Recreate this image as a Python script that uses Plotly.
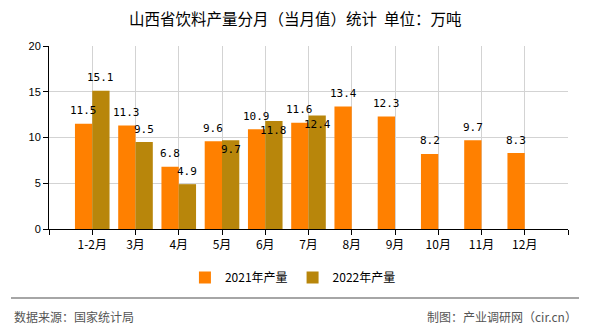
import plotly.graph_objects as go

months = ["1-2月", "3月", "4月", "5月", "6月", "7月", "8月", "9月", "10月", "11月", "12月"]
prod_2021 = [11.5, 11.3, 6.8, 9.6, 10.9, 11.6, 13.4, 12.3, 8.2, 9.7, 8.3]
prod_2022 = [15.1, 9.5, 4.9, 9.7, 11.8, 12.4]
series_names = ["2021年产量", "2022年产量"]
colors = ["#FF8000", "#B8860B"]
y_ticks = [0, 5, 10, 15, 20]

title = "山西省饮料产量分月（当月值）统计\u00a0\u00a0单位：万吨"
source = "数据来源：国家统计局"
maker = "制图：产业调研网（cir.cn）"

CJK = "Noto Sans CJK SC"
idx = list(range(len(months)))

W, H = 590, 330
L, R, T, B = 49, 22, 46, 101

fig = go.Figure()
for name, vals, col in zip(series_names, [prod_2021, prod_2022], colors):
    fig.add_trace(go.Bar(
        x=idx[:len(vals)], y=vals, name=name,
        marker=dict(color=col, line=dict(width=0)),
        hoverinfo="x+y",
    ))

# value labels: above the bar; when the second label would collide with the
# first one of the same month, it is drawn just inside the top of its bar
bar_w = 0.4
label_font = dict(family="DejaVu Sans Mono, monospace", size=11, color="#000")
for i, v in enumerate(prod_2021):
    fig.add_annotation(x=idx[i] - bar_w / 2, y=v, xref="x", yref="y",
                       text=f"{v:.1f}", showarrow=False, yshift=13, font=label_font)
for i, v in enumerate(prod_2022):
    collide = abs(v - prod_2021[i]) < 1.5
    fig.add_annotation(x=idx[i] + bar_w / 2, y=v, xref="x", yref="y",
                       text=f"{v:.1f}", showarrow=False, yshift=-9 if collide else 13,
                       font=label_font)

tickvals = list(range(-1, len(months) + 1))
ticktext = [""] + months + [""]

fig.update_layout(
    width=W, height=H,
    margin=dict(l=L, r=R, t=T, b=B),
    paper_bgcolor="white", plot_bgcolor="white",
    barmode="group", bargap=0.2, bargroupgap=0,
    showlegend=True,
    legend=dict(orientation="h", x=0.47, xanchor="center", y=-0.265, yanchor="middle",
                font=dict(family=CJK, size=12, color="#000"), itemwidth=30,
                traceorder="normal"),
    font=dict(family=CJK, size=12, color="#000"),
    xaxis=dict(range=[-1, len(months)], tickmode="array", tickvals=tickvals, ticktext=ticktext,
               showgrid=True, gridcolor="#D3D3D3", gridwidth=1,
               showline=True, linecolor="#000", linewidth=1,
               ticks="outside", ticklen=5, tickcolor="#000", zeroline=False,
               tickfont=dict(family=CJK, size=12, color="#000")),
    yaxis=dict(range=[0, 20], tickmode="array", tickvals=y_ticks,
               showgrid=True, gridcolor="#D3D3D3", gridwidth=1,
               showline=True, linecolor="#000", linewidth=1,
               ticks="outside", ticklen=5, tickcolor="#000", zeroline=False,
               tickfont=dict(family="Liberation Sans, Arial", size=11, color="#000")),
)

plot_h = H - T - B
plot_w = W - L - R
def px_x(p):
    return (p - L) / plot_w
def px_y(p):
    return (H - B - p) / plot_h

fig.add_annotation(x=px_x(295), y=px_y(18), xref="paper", yref="paper", xanchor="center", yanchor="middle",
                   text=title, showarrow=False, font=dict(family=CJK, size=15.5, color="#000"))
fig.add_annotation(x=px_x(12), y=px_y(316), xref="paper", yref="paper", xanchor="left", yanchor="middle",
                   text=source, showarrow=False, font=dict(family=CJK, size=12, color="#555"))
fig.add_annotation(x=px_x(579), y=px_y(316), xref="paper", yref="paper", xanchor="right", yanchor="middle",
                   text=maker, showarrow=False, font=dict(family=CJK, size=12, color="#555"))
fig.add_shape(type="line", xref="paper", yref="paper", x0=px_x(11), x1=px_x(579),
              y0=px_y(298), y1=px_y(298), line=dict(color="#888", width=1.5))

fig.write_html("out.html")
